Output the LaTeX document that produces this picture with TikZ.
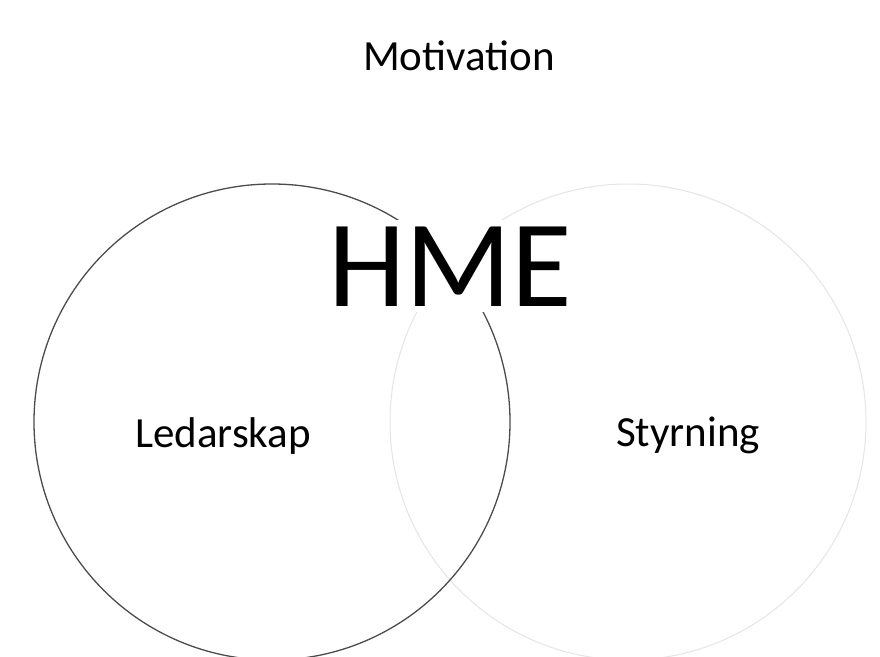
\documentclass[tikz,border=0pt]{standalone}
\usepackage{fontspec}
\setmainfont{Carlito}
\begin{document}
\begin{tikzpicture}[x=1pt,y=-1pt,
  lbl/.style={anchor=base,inner sep=0pt,font=\fontsize{43}{50}\selectfont},
  big/.style={anchor=base,inner xsep=4pt,inner ysep=6pt,fill=white,font=\fontsize{124}{140}\selectfont},
  setline/.style={draw=black!70,line width=1.3pt},
  faintline/.style={draw=black!10,line width=1pt}]
\useasboundingbox[fill=white] (0,0) rectangle (880,656);
\node[faintline,circle,minimum size=476pt,inner sep=0pt] (right) at (628,422) {};
\node[setline,circle,minimum size=476pt,inner sep=0pt] (left) at (272,422) {};
\node[lbl] (mot) at (459,70) {Motivation};
\node[lbl] (led) at (223,447) {Ledarskap};
\node[lbl] (sty) at (688,446) {Styrning};
\node[big] (hme) at (450,306) {HME};
\end{tikzpicture}
\end{document}
